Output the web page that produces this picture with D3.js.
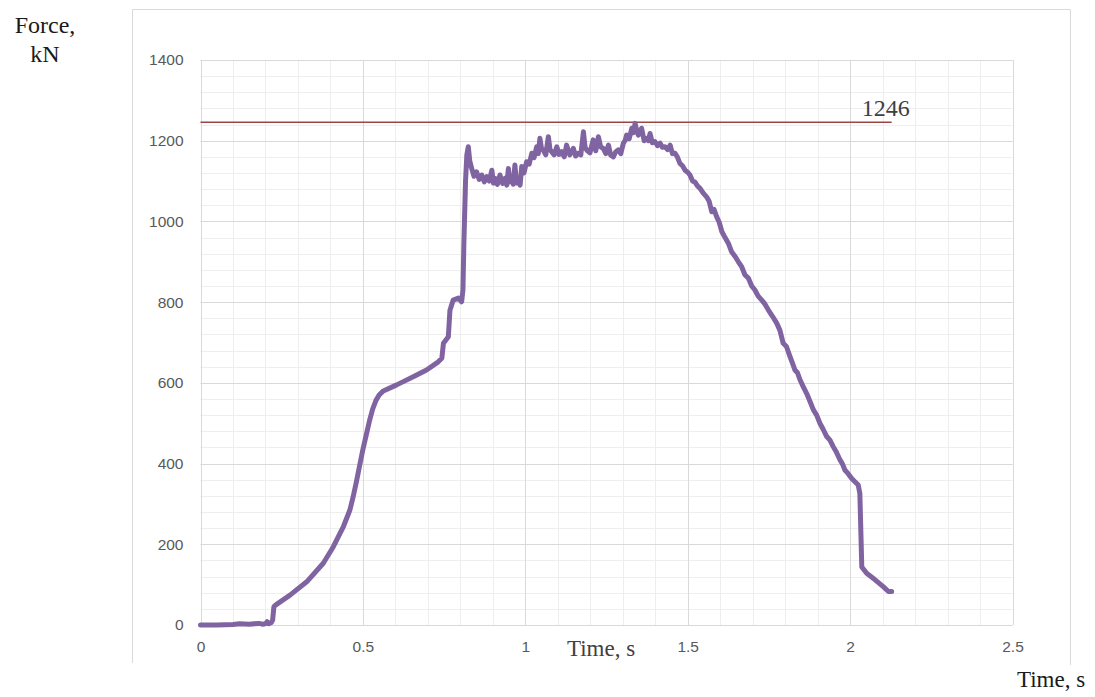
<!DOCTYPE html>
<html>
<head>
<meta charset="utf-8">
<script src="https://cdn.jsdelivr.net/npm/d3@7"></script>
<style>
  html, body { margin: 0; padding: 0; background: #fff; }
  svg { display: block; }
</style>
</head>
<body>
<svg id="chart" width="1095" height="697"></svg>
<script>
// Measured force trace (time in s, force in kN)
const time = [
  0, 0.05, 0.1, 0.12, 0.15, 0.18, 0.19, 0.2, 0.205, 0.21, 0.218, 0.222, 0.226, 0.232,
  0.2756, 0.327, 0.378, 0.409, 0.44, 0.46, 0.47, 0.48, 0.49, 0.5, 0.51, 0.52, 0.53,
  0.54, 0.55, 0.563, 0.604, 0.655, 0.696, 0.732, 0.743, 0.748, 0.763, 0.768, 0.778, 0.794, 0.804,
  0.808, 0.811, 0.816, 0.82, 0.8245, 0.829, 0.835, 0.842, 0.85, 0.858, 0.866, 0.874, 0.881, 0.889,
  0.897, 0.902, 0.907, 0.914, 0.922, 0.93, 0.938, 0.943, 0.948, 0.953, 0.958, 0.963, 0.968, 0.973,
  0.978, 0.984, 0.989, 0.996, 1.004, 1.012, 1.02, 1.027, 1.035, 1.04, 1.045, 1.05, 1.055, 1.063,
  1.071, 1.076, 1.081, 1.089, 1.097, 1.104, 1.112, 1.12, 1.127, 1.137, 1.148, 1.155, 1.163, 1.171,
  1.179, 1.184, 1.189, 1.199, 1.209, 1.217, 1.225, 1.232, 1.24, 1.248, 1.256, 1.263, 1.271, 1.278,
  1.286, 1.294, 1.302, 1.307, 1.312, 1.32, 1.328, 1.333, 1.338, 1.343, 1.348, 1.353, 1.358, 1.366,
  1.374, 1.379, 1.384, 1.391, 1.399, 1.407, 1.415, 1.422, 1.43, 1.438, 1.446, 1.453, 1.461, 1.468,
  1.476, 1.484, 1.492, 1.5, 1.507, 1.515, 1.522, 1.53, 1.538, 1.548, 1.558, 1.566, 1.574, 1.581,
  1.589, 1.597, 1.605, 1.615, 1.625, 1.635, 1.646, 1.656, 1.666, 1.676, 1.687, 1.697, 1.707, 1.717,
  1.728, 1.738, 1.748, 1.761, 1.774, 1.784, 1.794, 1.804, 1.815, 1.822, 1.83, 1.838, 1.846, 1.856,
  1.866, 1.876, 1.887, 1.897, 1.907, 1.917, 1.928, 1.938, 1.948, 1.958, 1.969, 1.976, 1.984, 1.994,
  2.005, 2.015, 2.025, 2.03, 2.036, 2.051, 2.077, 2.102, 2.118, 2.128
];
const force = [
  0, 0, 1, 3, 2, 4, 2, 3, 8, 3, 6, 12, 45, 50,
  74, 107, 153, 194, 244, 285, 318, 355, 395, 435, 470, 505, 535,
  556, 570, 580, 595, 615, 632, 652, 661, 698, 714, 780, 805, 810, 801,
  830, 950, 1100, 1165, 1185, 1150, 1131, 1112, 1123, 1104, 1115, 1098, 1111, 1100,
  1127, 1095, 1107, 1092, 1115, 1094, 1107, 1090, 1131, 1098, 1111, 1092, 1140, 1095,
  1103, 1090, 1136, 1120, 1148, 1142, 1169, 1158, 1185, 1168, 1206, 1180, 1177, 1165,
  1210, 1178, 1173, 1165, 1185, 1166, 1173, 1160, 1189, 1165, 1181, 1162, 1169, 1165,
  1222, 1184, 1177, 1170, 1202, 1175, 1210, 1185, 1181, 1168, 1189, 1164, 1160, 1172,
  1177, 1168, 1194, 1200, 1214, 1205, 1231, 1220, 1243, 1225, 1214, 1220, 1231, 1200,
  1206, 1200, 1218, 1195, 1198, 1188, 1194, 1184, 1185, 1178, 1189, 1168, 1169, 1160,
  1144, 1138, 1127, 1122, 1115, 1100, 1098, 1088, 1082, 1070, 1061, 1050, 1024, 1030,
  1012, 998, 975, 960, 946, 925, 913, 900, 888, 868, 859, 840, 830, 815,
  805, 795, 781, 765, 748, 730, 698, 690, 665, 650, 632, 625, 607, 590,
  574, 555, 533, 520, 500, 485, 467, 458, 442, 428, 409, 400, 384, 375,
  363, 355, 347, 326, 144, 128, 112, 95, 83, 83
];

// Reference level line
const refValue = 1246;
const refSpan = [0, 2.128];

// Axis ticks
const xTicks = [0, 0.5, 1, 1.5, 2, 2.5];
const yTicks = [0, 200, 400, 600, 800, 1000, 1200, 1400];
const xMinor = d3.range(0, 2.5001, 0.1);
const yMinor = d3.range(0, 1400.1, 40);

const svg = d3.select("#chart");

const x = d3.scaleLinear().domain([0, 2.5]).range([200.5, 1012.5]);
const y = d3.scaleLinear().domain([0, 1400]).range([625, 60]);

// Outer chart frame (left, top, right)
svg.append("path")
  .attr("d", "M132.5,663 V9.5 H1070.5 V665")
  .attr("fill", "none")
  .attr("stroke", "#d9d9d9")
  .attr("stroke-width", 1);

// Minor grid
const grid = svg.append("g");
grid.selectAll(".vminor").data(xMinor).join("line")
  .attr("x1", d => Math.round(x(d)) + 0.5).attr("x2", d => Math.round(x(d)) + 0.5)
  .attr("y1", y(0)).attr("y2", y(1400))
  .attr("stroke", "#eeeeee").attr("stroke-width", 1);
grid.selectAll(".hminor").data(yMinor).join("line")
  .attr("x1", x(0)).attr("x2", x(2.5))
  .attr("y1", d => Math.round(y(d)) + 0.5).attr("y2", d => Math.round(y(d)) + 0.5)
  .attr("stroke", "#eeeeee").attr("stroke-width", 1);

// Major grid
grid.selectAll(".vmajor").data(xTicks).join("line")
  .attr("x1", d => Math.round(x(d)) + 0.5).attr("x2", d => Math.round(x(d)) + 0.5)
  .attr("y1", y(0)).attr("y2", y(1400))
  .attr("stroke", "#d9d9d9").attr("stroke-width", 1);
grid.selectAll(".hmajor").data(yTicks).join("line")
  .attr("x1", x(0)).attr("x2", x(2.5))
  .attr("y1", d => Math.round(y(d)) + 0.5).attr("y2", d => Math.round(y(d)) + 0.5)
  .attr("stroke", "#d9d9d9").attr("stroke-width", 1);

// Axes (labels only)
const xAxis = d3.axisBottom(x).tickValues(xTicks).tickSize(0).tickPadding(16)
  .tickFormat(d => String(d));
const yAxis = d3.axisLeft(y).tickValues(yTicks).tickSize(0).tickPadding(17)
  .tickFormat(d3.format("d"));

const gx = svg.append("g").attr("transform", `translate(0,${y(0)})`).call(xAxis);
const gy = svg.append("g").attr("transform", `translate(${x(0)},0)`).call(yAxis);
[gx, gy].forEach(g => {
  g.select(".domain").remove();
  g.selectAll("text")
    .attr("fill", "#595959")
    .style("font-family", "'Liberation Sans', Arial, sans-serif")
    .style("font-size", "15.5px");
});

// Reference level
svg.append("line")
  .attr("x1", x(refSpan[0])).attr("x2", x(refSpan[1]))
  .attr("y1", y(refValue)).attr("y2", y(refValue))
  .attr("stroke", "#9a4642").attr("stroke-width", 1.5);
svg.append("text")
  .attr("x", x(refSpan[1]) - 6).attr("y", y(refValue) - 6)
  .attr("text-anchor", "middle")
  .attr("fill", "#404040")
  .style("font-family", "'Liberation Serif', 'Times New Roman', serif")
  .style("font-size", "24px")
  .text(refValue);

// Force trace
const line = d3.line().x((d, i) => x(time[i])).y(d => y(d));
svg.append("path")
  .datum(force)
  .attr("d", line)
  .attr("fill", "none")
  .attr("stroke", "#8064a2")
  .attr("stroke-width", 5)
  .attr("stroke-linejoin", "round")
  .attr("stroke-linecap", "round");

// Axis titles
const serif = "'Liberation Serif', 'Times New Roman', serif";
svg.append("text").attr("x", 45).attr("y", 33).attr("text-anchor", "middle")
  .attr("fill", "#1a1a1a").style("font-family", serif).style("font-size", "24px")
  .text("Force,");
svg.append("text").attr("x", 45).attr("y", 62).attr("text-anchor", "middle")
  .attr("fill", "#1a1a1a").style("font-family", serif).style("font-size", "24px")
  .text("kN");
svg.append("text").attr("x", 601).attr("y", 656).attr("text-anchor", "middle")
  .attr("fill", "#404040").style("font-family", serif).style("font-size", "23px")
  .text("Time, s");
svg.append("text").attr("x", 1051).attr("y", 687).attr("text-anchor", "middle")
  .attr("fill", "#1a1a1a").style("font-family", serif).style("font-size", "23px")
  .text("Time, s");
</script>
</body>
</html>
